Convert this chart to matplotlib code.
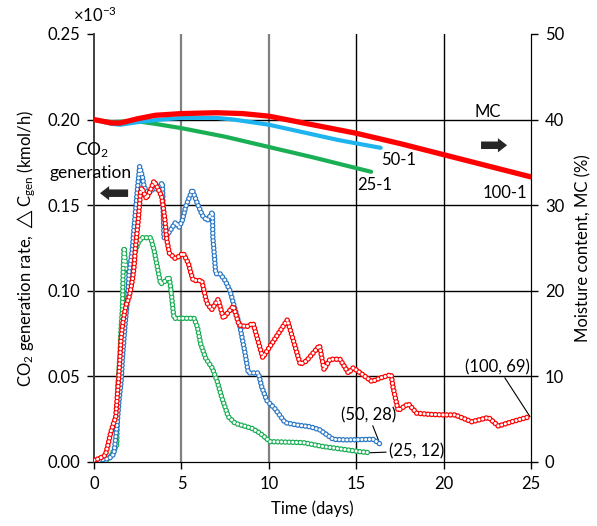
import matplotlib
matplotlib.use("Agg")
import matplotlib.pyplot as plt

plt.rcParams['font.family'] = ['Lato', 'DejaVu Sans']
plt.rcParams['mathtext.fontset'] = 'custom'
plt.rcParams['mathtext.rm'] = 'Lato'
plt.rcParams['mathtext.it'] = 'Lato:italic'
plt.rcParams['mathtext.bf'] = 'Lato:bold'
plt.rcParams['lines.scale_dashes'] = False

# CO2 generation rate (x10^-3 kmol/h) vs time (days)
t_co2_100 = [0.0, 0.3, 0.65, 0.8, 0.95, 1.1, 1.24, 1.3, 1.36, 1.42, 1.48, 1.54, 1.62, 1.72,
             1.85, 2.0, 2.12, 2.22, 2.3, 2.36, 2.44, 2.52, 2.6, 2.67, 2.75, 2.9, 3.0, 3.2,
             3.43, 3.65, 3.87, 3.97, 4.06, 4.16, 4.31, 4.63, 4.85, 5.1, 5.4, 5.55, 5.68,
             6.16, 6.45, 6.73, 7.1, 7.4, 7.97, 8.3, 8.73, 9.1, 9.65, 11.06, 11.8, 12.15,
             12.9, 13.16, 13.5, 14.07, 14.55, 14.83, 15.1, 15.9, 16.36, 17.0, 17.1, 17.4,
             17.98, 18.46, 19.2, 20.0, 20.65, 21.6, 22.56, 23.13, 24.0, 24.94]
co2_100 = [0.001, 0.002, 0.004, 0.010, 0.017, 0.022, 0.026, 0.034, 0.042, 0.050, 0.060, 0.071,
           0.079, 0.086, 0.092, 0.096, 0.102, 0.108, 0.115, 0.124, 0.132, 0.140, 0.150, 0.159,
           0.160, 0.156, 0.154, 0.158, 0.164, 0.160, 0.155, 0.148, 0.141, 0.130, 0.122, 0.119,
           0.120, 0.122, 0.116, 0.110, 0.106, 0.106, 0.093, 0.089, 0.095, 0.084, 0.091, 0.080,
           0.079, 0.081, 0.061, 0.083, 0.057, 0.059, 0.068, 0.054, 0.060, 0.060, 0.052, 0.055,
           0.053, 0.047, 0.049, 0.051, 0.044, 0.030, 0.034, 0.0285, 0.0278, 0.0275, 0.0275,
           0.0235, 0.026, 0.021, 0.0238, 0.0265]

t_co2_50 = [0.3, 0.8, 1.0, 1.14, 1.25, 1.33, 1.43, 1.56, 1.62, 1.75, 1.81, 1.87, 1.95, 2.0,
            2.19, 2.29, 2.38, 2.48, 2.61, 2.76, 2.86, 3.05, 3.34, 3.62, 3.91, 3.95, 4.0, 4.1,
            4.38, 4.67, 4.86, 5.05, 5.24, 5.62, 5.91, 6.2, 6.48, 6.77, 6.8, 6.9, 6.96, 7.2,
            7.5, 7.78, 7.97, 8.35, 8.64, 8.83, 9.4, 9.59, 9.88, 10.36, 10.93, 11.6, 12.36,
            12.93, 13.69, 14.46, 15.69, 15.98, 16.36]
co2_50 = [0.001, 0.002, 0.003, 0.005, 0.015, 0.023, 0.036, 0.048, 0.060, 0.077, 0.084, 0.090,
          0.100, 0.110, 0.124, 0.137, 0.147, 0.159, 0.1725, 0.167, 0.161, 0.157, 0.159, 0.160,
          0.163, 0.150, 0.131, 0.131, 0.1355, 0.140, 0.137, 0.141, 0.149, 0.159, 0.151, 0.144,
          0.141, 0.146, 0.131, 0.1186, 0.110, 0.110, 0.106, 0.100, 0.0927, 0.079, 0.0635,
          0.052, 0.052, 0.044, 0.036, 0.031, 0.023, 0.0216, 0.0206, 0.0187, 0.0132, 0.0129,
          0.0132, 0.0132, 0.0105]

t_co2_25 = [0.5, 0.73, 1.0, 1.3, 1.37, 1.43, 1.49, 1.52, 1.56, 1.62, 1.64, 1.66, 1.68, 1.72,
            1.8, 1.9, 2.06, 2.25, 2.53, 2.72, 3.05, 3.24, 3.43, 3.62, 3.81, 4.0, 4.29, 4.36,
            4.42, 4.48, 4.52, 4.58, 5.72, 5.91, 6.1, 6.39, 6.77, 7.05, 7.3, 7.68, 8.07, 9.02,
            9.5, 10.07, 11.97, 13.12, 14.26, 15.22, 15.8]
co2_25 = [0.0, 0.001, 0.004, 0.010, 0.045, 0.054, 0.0625, 0.071, 0.080, 0.089, 0.0975, 0.108,
          0.115, 0.125, 0.116, 0.112, 0.110, 0.120, 0.128, 0.131, 0.131, 0.131, 0.124, 0.114,
          0.104, 0.105, 0.108, 0.104, 0.0985, 0.0927, 0.0888, 0.0839, 0.0839, 0.079, 0.069,
          0.0605, 0.0547, 0.047, 0.038, 0.0265, 0.0226, 0.0197, 0.0168, 0.0119, 0.0113, 0.009,
          0.0074, 0.006, 0.0054]

# Moisture content (%) vs time (days)
t_mc_100 = [0, 0.5, 1.0, 1.5, 2.5, 3.5, 5, 7, 8.5, 10, 12, 15, 17.5, 20, 22.5, 25]
mc_100 = [40.0, 39.8, 39.6, 39.6, 40.1, 40.5, 40.7, 40.8, 40.7, 40.4, 39.6, 38.4, 37.2, 35.9,
          34.6, 33.3]
t_mc_50 = [0, 1, 1.5, 2.5, 3.8, 5, 7, 8, 10, 12, 14, 16.4]
mc_50 = [40.0, 39.5, 39.4, 39.7, 40.0, 40.2, 40.2, 40.0, 39.4, 38.5, 37.6, 36.7]
t_mc_25 = [0, 1, 2, 2.5, 3.5, 5, 7.5, 10, 12.5, 15.85]
mc_25 = [40.0, 39.7, 39.8, 39.8, 39.5, 39.0, 38.0, 36.8, 35.6, 33.9]

red = '#ff0000'
blue = '#2a78c6'
lblue = '#1eb4f0'
green = '#1aaf55'


def chain(ax, t, v, color, z):
    # open circles packed along the curve
    dots = (0, (0.01, 2.7))
    ax.plot(t, v, color=color, lw=4.0, ls=dots, dash_capstyle='round', zorder=z)
    ax.plot(t, v, color='white', lw=2.2, ls=dots, dash_capstyle='round', zorder=z + 0.1)


fig = plt.figure(figsize=(5.97, 5.26), dpi=100)
ax = fig.add_axes([0.1575, 0.1217, 0.732, 0.8137])
ax2 = ax.twinx()

chain(ax, t_co2_25, co2_25, green, 3)
chain(ax, t_co2_50, co2_50, blue, 4)
chain(ax, t_co2_100, co2_100, red, 5)

ax2.plot(t_mc_25, mc_25, color=green, lw=3.0, solid_capstyle='round', zorder=3)
ax2.plot(t_mc_50, mc_50, color=lblue, lw=3.0, solid_capstyle='round', zorder=4)
ax2.plot(t_mc_100, mc_100, color=red, lw=3.8, solid_capstyle='round', zorder=5)

ax.set_xlim(0, 25)
ax.set_ylim(0, 0.25)
ax2.set_ylim(0, 50)
ax.set_xticks([0, 5, 10, 15, 20, 25])
ax.set_yticks([0, 0.05, 0.10, 0.15, 0.20, 0.25])
ax.set_yticklabels(['0.00', '0.05', '0.10', '0.15', '0.20', '0.25'])
ax2.set_yticks([0, 10, 20, 30, 40, 50])

ax.set_axisbelow(True)
ax.grid(True, color='black', lw=1.0)
xg = ax.xaxis.get_gridlines()
for i, g in enumerate(xg):
    if i in (1, 2):
        g.set_color('#808080')
        g.set_linewidth(1.6)
    if i in (0, 5):
        g.set_visible(False)
yg = ax.yaxis.get_gridlines()
yg[0].set_visible(False)
yg[-1].set_visible(False)

for a in (ax, ax2):
    a.spines['top'].set_visible(False)
    a.tick_params(direction='out', length=5, width=1, labelsize=12, pad=5, color='black')
ax.spines['left'].set_color('#404040')
ax.spines['left'].set_linewidth(1.4)
ax2.spines['left'].set_visible(False)

ax.set_xlabel('Time (days)', fontsize=12, labelpad=6)
ax.set_ylabel(r'CO$_2$ generation rate, $\triangle$C$_{\rm gen}$ (kmol/h)', fontsize=12,
              labelpad=7)
ax2.set_ylabel('Moisture content, MC (%)', fontsize=12, labelpad=8)
fig.text(73 / 597, 1 - 15 / 526, r'$\times$10$^{-3}$', fontsize=12, va='center', ha='left')

ax.text(-0.11, 0.182, r'CO$_2$', fontsize=12.5, ha='center', va='center')
ax.text(-0.17, 0.169, 'generation', fontsize=12.5, ha='center', va='center')
ax.text(22.5, 0.2044, 'MC', fontsize=12, ha='center', va='center')
ax.text(16.4, 0.1764, '50-1', fontsize=12, ha='left', va='center')
ax.text(15.05, 0.162, '25-1', fontsize=12, ha='left', va='center')
ax.text(24.8, 0.157, '100-1', fontsize=12, ha='right', va='center')

arr = dict(arrowstyle='simple,head_length=0.55,head_width=0.85,tail_width=0.45',
           fc='#262626', ec='none', mutation_scale=12, shrinkA=0, shrinkB=0)
ax.annotate('', xy=(0.34, 0.157), xytext=(1.95, 0.157), arrowprops=arr)
ax.annotate('', xy=(23.63, 0.185), xytext=(22.14, 0.185), arrowprops=arr)

lab = dict(arrowstyle='-', color='black', lw=0.8, shrinkA=0, shrinkB=0)
ax.annotate('(100, 69)', xy=(24.94, 0.0265), xytext=(23.1, 0.0555), fontsize=12,
            ha='center', va='center', arrowprops=lab)
ax.annotate('(50, 28)', xy=(16.36, 0.0105), xytext=(15.7, 0.0275), fontsize=12,
            ha='center', va='center', arrowprops=lab)
ax.annotate('(25, 12)', xy=(15.8, 0.0054), xytext=(18.45, 0.0064), fontsize=12,
            ha='center', va='center', arrowprops=lab)

fig.savefig('out.png', dpi=100)
